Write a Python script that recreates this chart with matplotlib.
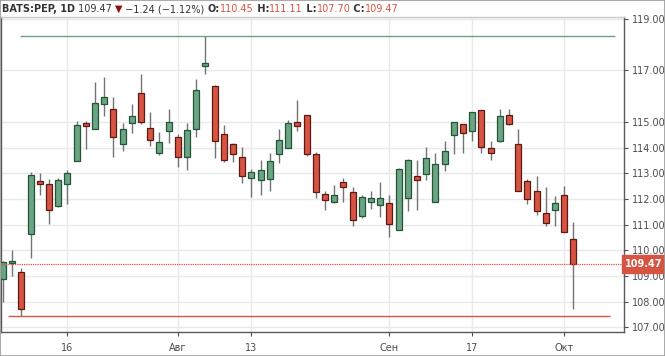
import numpy as np
import matplotlib.pyplot as plt
from matplotlib.patches import Rectangle
from matplotlib.transforms import blended_transform_factory

# daily candles BATS:PEP, 5 Jul - 2 Oct
opens = [108.87, 109.49, 109.14, 110.65, 112.69, 112.59, 111.71, 112.59, 113.48, 114.95,
         114.74, 115.71, 115.49, 114.14, 114.94, 116.11, 114.77, 113.77, 114.65, 114.42,
         113.62, 114.74, 117.18, 116.39, 114.52, 114.14, 113.63, 112.81, 112.72, 112.78,
         113.75, 113.99, 115.00, 115.25, 113.75, 112.21, 111.88, 112.64, 112.25, 111.32,
         111.88, 111.77, 111.86, 110.78, 112.03, 112.90, 112.96, 111.88, 113.35, 114.48,
         114.91, 114.64, 115.45, 113.99, 114.24, 115.25, 114.12, 112.70, 112.32, 111.45,
         111.58, 112.16, 110.45]
highs = [109.60, 110.03, 109.32, 113.06, 112.99, 112.77, 112.83, 113.13, 115.04, 115.04,
         116.55, 116.74, 115.97, 114.96, 115.68, 116.85, 115.37, 114.61, 115.49, 114.52,
         114.96, 116.65, 118.33, 116.42, 114.87, 114.16, 114.01, 113.17, 113.52, 113.77,
         114.74, 115.06, 115.84, 115.27, 113.84, 112.29, 112.55, 112.81, 112.48, 112.16,
         112.29, 112.64, 112.16, 113.19, 113.54, 113.52, 114.03, 113.77, 114.26, 115.00,
         114.91, 115.39, 115.45, 114.26, 115.50, 115.50, 114.74, 112.78, 112.90, 112.47,
         112.10, 112.52, 111.11]
lows = [107.97, 109.00, 107.45, 109.71, 112.16, 111.04, 111.69, 111.81, 113.48, 113.93,
        114.74, 115.23, 113.62, 113.88, 114.55, 114.91, 114.06, 113.71, 114.16, 113.26,
        113.13, 114.42, 116.87, 113.58, 113.43, 113.43, 112.61, 112.06, 112.16, 112.29,
        113.39, 113.99, 114.64, 113.67, 112.03, 111.58, 111.84, 111.88, 110.96, 111.26,
        111.61, 111.30, 110.52, 110.78, 111.52, 111.58, 112.74, 111.88, 113.09, 113.75,
        113.77, 114.26, 113.77, 113.52, 114.21, 114.87, 112.29, 111.81, 111.36, 110.96,
        110.96, 110.72, 107.70]
closes = [109.54, 109.58, 107.71, 112.94, 112.59, 111.55, 112.73, 113.00, 114.87, 114.83,
          115.74, 115.97, 114.42, 114.73, 115.23, 115.00, 114.29, 114.21, 115.00, 113.62,
          114.70, 116.25, 117.28, 114.24, 113.52, 113.74, 112.90, 113.04, 113.13, 113.49,
          114.29, 114.97, 114.83, 113.74, 112.26, 111.97, 112.17, 112.45, 111.19, 112.08,
          112.02, 112.05, 111.04, 113.15, 113.52, 112.74, 113.59, 113.36, 113.86, 115.00,
          114.57, 115.39, 114.01, 113.80, 115.22, 114.91, 112.32, 112.01, 111.52, 111.06,
          111.84, 110.72, 109.47]

date_labels = ['16', 'Авг', '13', 'Сен', '17', 'Окт']
date_index = [7, 19, 27, 42, 51, 61]
price_ticks = [107, 108, 109, 110, 111, 112, 113, 114, 115, 117, 119]

# drawn horizontal levels: (price, start bar, end bar)
green_level = (118.33, 1.85, 66.5)
red_level = (107.45, 0.55, 66.0)

UP, DOWN = '#6ba583', '#d75442'
UP_EDGE, DOWN_EDGE = '#225437', '#5b1a13'
WICK = '#737375'
GRID = '#e9e9e9'
TXT = '#4d4d4d'

fig = plt.figure(figsize=(6.65, 3.56), dpi=100)
ax = fig.add_axes([1 / 665, 24 / 356, 623 / 665, 315 / 356])

idx = np.arange(len(opens))
o = np.array(opens)
c = np.array(closes)
up = c >= o
bottom = np.minimum(o, c)
height = np.maximum(np.abs(c - o), 0.06)

ax.vlines(idx, lows, highs, color=WICK, lw=1, zorder=2)
ax.bar(idx[up], height[up], bottom=bottom[up], width=0.66, color=UP,
       edgecolor=UP_EDGE, linewidth=0.9, zorder=3)
ax.bar(idx[~up], height[~up], bottom=bottom[~up], width=0.66, color=DOWN,
       edgecolor=DOWN_EDGE, linewidth=0.9, zorder=3)

ax.hlines(green_level[0], green_level[1], green_level[2], color='#6aa583', lw=1, zorder=4)
ax.hlines(red_level[0], red_level[1], red_level[2], color='#e0533f', lw=1, zorder=4)
ax.axhline(closes[-1], color='#e0533f', lw=0.9, ls=(0, (1, 0.8)), zorder=4)

ax.set_xlim(-0.22, 67.5)
ax.set_ylim(106.82, 119.08)

ax.set_xticks(date_index)
ax.set_xticklabels(date_labels)
ax.yaxis.tick_right()
ax.set_yticks(price_ticks)
ax.set_yticklabels(['%.2f' % v for v in price_ticks])
ax.tick_params(axis='both', colors=TXT, labelsize=7, length=3, width=0.8, pad=3)
ax.tick_params(axis='x', pad=5)
ax.grid(True, color=GRID, lw=1, zorder=0)
ax.set_axisbelow(True)
for s in ax.spines.values():
    s.set_color('#5a5a5a')
    s.set_linewidth(1)
ax.spines['top'].set_color('#c8c8c8')

# last price label on the scale
scale_tr = blended_transform_factory(fig.transFigure, ax.transData)
ax.annotate('%.2f' % closes[-1], xy=(644 / 665, closes[-1]), xycoords=scale_tr,
            ha='center', va='center', fontsize=7, fontweight='bold', color='white',
            zorder=10, annotation_clip=False,
            bbox=dict(boxstyle='square,pad=0.38', fc=DOWN, ec=DOWN))

# header line, pieces chained one after another
parts = [('BATS:PEP, 1D', 'bold', '#333333'), (' 109.47 ', 'normal', '#333333'),
         ('▼', 'normal', '#8b1010'), (' −1.24 (−1.12%) ', 'normal', '#333333'),
         ('O:', 'bold', '#333333'), ('110.45', 'normal', DOWN), (' H:', 'bold', '#333333'),
         ('111.11', 'normal', DOWN), (' L:', 'bold', '#333333'), ('107.70', 'normal', DOWN),
         (' C:', 'bold', '#333333'), ('109.47', 'normal', DOWN)]
prev = fig.text(2 / 665, 1 - 9 / 356, parts[0][0], fontsize=7, fontweight=parts[0][1],
                color=parts[0][2], va='center', ha='left')
for txt, w, col in parts[1:]:
    prev = ax.annotate(txt, xy=(1, 0.5), xycoords=prev, va='center', ha='left',
                       fontsize=7, fontweight=w, color=col, annotation_clip=False)

fig.patches.append(Rectangle((0, 0), 1, 1, transform=fig.transFigure, fill=False,
                             edgecolor='#9a9a9a', lw=1.2))

fig.savefig('out.png', dpi=100)
